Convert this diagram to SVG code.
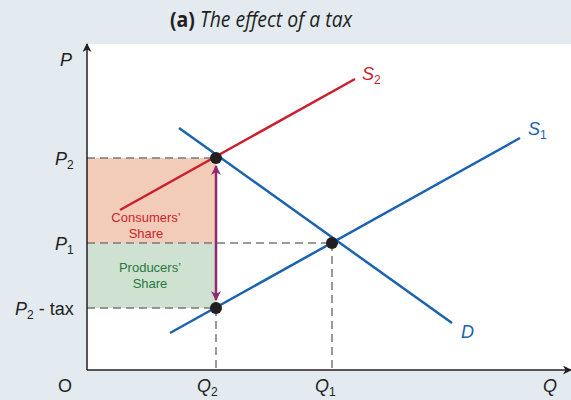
<svg xmlns="http://www.w3.org/2000/svg" width="571" height="400" viewBox="0 0 571 400">
<defs>
<style>
.ax{font-family:"Liberation Sans",Arial,sans-serif;font-size:18px;font-style:italic;fill:#231f20}
.up{font-style:normal}
.red{fill:#cc1f2d}
.blue{fill:#1a63b0}
.sub{font-size:12px;font-style:normal}
.dash{stroke:#7a7a7a;stroke-width:1.5;stroke-dasharray:8,5;fill:none}
.pt{fill:#231f20}
.share{font-family:"Liberation Sans",Arial,sans-serif;font-size:13px;text-anchor:middle}
</style>
<marker id="ah" viewBox="0 0 10 10" refX="9" refY="5" markerWidth="11" markerHeight="9" orient="auto-start-reverse" markerUnits="userSpaceOnUse">
<path d="M0,0 L10,5 L0,10 L3,5 Z" fill="#231f20"/>
</marker>
<marker id="ph" viewBox="0 0 10 10" refX="9" refY="5" markerWidth="12" markerHeight="10" orient="auto-start-reverse" markerUnits="userSpaceOnUse">
<path d="M0,0 L10,5 L0,10 L3,5 Z" fill="#8e2a6f"/>
</marker>
</defs>
<rect width="571" height="400" fill="#e3ebf1"/>
<rect x="87" y="44" width="484" height="326" fill="#ffffff"/>
<g id="title">
<text x="170" y="27" textLength="182" lengthAdjust="spacingAndGlyphs" font-family="'Open Sans',sans-serif" font-size="21" fill="#231f20"><tspan font-weight="bold">(a)</tspan> <tspan font-style="italic">The effect of a tax</tspan></text>
</g>
<g id="areas">
<rect x="87" y="158" width="129" height="85" fill="#f2cbb9"/>
<rect x="87" y="243" width="129" height="65" fill="#cfe1d0"/>
</g>
<g id="connectors">
<path class="dash" d="M87,158 H216 M87,243 H332 M87,308 H216 M216,308 V370 M332,243 V370"/>
<line id="S2" x1="120" y1="210" x2="355" y2="79" stroke="#cc1f2d" stroke-width="2.5"/>
<line id="D" x1="179" y1="128" x2="452" y2="323" stroke="#1a63b0" stroke-width="2.5"/>
<line id="S1" x1="170" y1="333" x2="520" y2="138" stroke="#1a63b0" stroke-width="2.5"/>
<line x1="216" y1="166" x2="216" y2="300" stroke="#8e2a6f" stroke-width="2.5" marker-start="url(#ph)" marker-end="url(#ph)"/>
<line x1="87" y1="370" x2="87" y2="44" stroke="#231f20" stroke-width="1.5" marker-end="url(#ah)"/>
<line x1="87" y1="370" x2="571" y2="370" stroke="#231f20" stroke-width="1.5" marker-end="url(#ah)"/>
</g>
<g id="points">
<circle class="pt" cx="216" cy="158" r="6"/>
<circle class="pt" cx="332" cy="243" r="6"/>
<circle class="pt" cx="216" cy="308" r="6"/>
</g>
<g id="labels">
<text class="ax" x="60" y="66">P</text>
<text class="ax" x="55" y="165">P<tspan class="sub" dy="4">2</tspan></text>
<text class="ax" x="55" y="250">P<tspan class="sub" dy="4">1</tspan></text>
<text class="ax" x="15" y="315">P<tspan class="sub" dy="4">2</tspan><tspan class="up" dy="-4"> - tax</tspan></text>
<text class="ax up" x="58" y="392">O</text>
<text class="ax" x="197" y="392">Q<tspan class="sub" dy="4">2</tspan></text>
<text class="ax" x="315" y="392">Q<tspan class="sub" dy="4">1</tspan></text>
<text class="ax" x="543" y="392">Q</text>
<text class="ax red" x="362" y="80">S<tspan class="sub" dy="4">2</tspan></text>
<text class="ax blue" x="528" y="135">S<tspan class="sub" dy="4">1</tspan></text>
<text class="ax blue" x="461" y="338">D</text>
<text class="share red" x="146" y="222">Consumers’</text>
<text class="share red" x="146" y="238">Share</text>
<text class="share" x="150" y="272" style="fill:#1f7a3c">Producers’</text>
<text class="share" x="150" y="288" style="fill:#1f7a3c">Share</text>
</g>
</svg>
